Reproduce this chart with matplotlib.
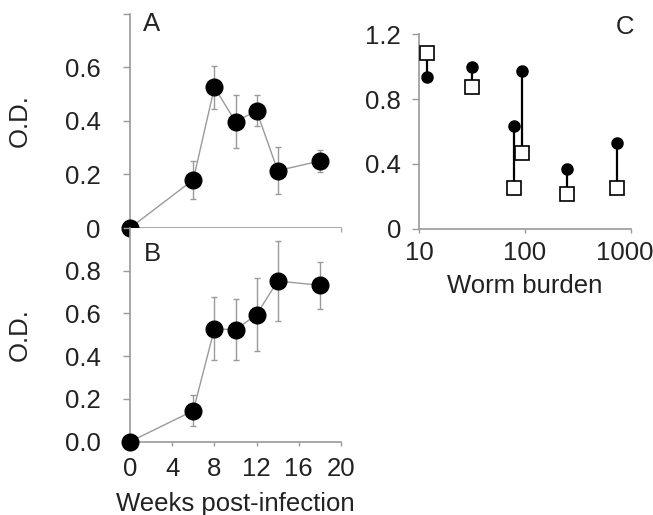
import matplotlib
matplotlib.use("Agg")
import matplotlib.pyplot as plt
import matplotlib.transforms as mtransforms
import numpy as np

plt.rcParams['font.family'] = ['Liberation Sans', 'DejaVu Sans']

# Panel A
weeks_a = [0, 6, 8, 10, 12, 14, 18]
od_a = [0.0, 0.18, 0.525, 0.397, 0.437, 0.214, 0.25]
err_a = [0.0, 0.07, 0.08, 0.10, 0.058, 0.087, 0.042]

# Panel B
weeks_b = [0, 6, 8, 10, 12, 14, 18]
od_b = [0.0, 0.145, 0.528, 0.524, 0.595, 0.752, 0.732]
err_b = [0.0, 0.072, 0.147, 0.142, 0.17, 0.185, 0.11]

# Panel C
worm = [12, 31.5, 78, 93, 250, 730]
od_circle = [0.938, 1.0, 0.636, 0.975, 0.369, 0.527]
od_square = [1.083, 0.877, 0.253, 0.469, 0.214, 0.253]

W, H = 653, 515
fig = plt.figure(figsize=(W/100, H/100), dpi=100)

def ax_px(l, t, r, b):
    return fig.add_axes([l/W, 1-b/H, (r-l)/W, (b-t)/H])

gray = '#9a9a9a'
txt = '#222222'
fs = 18.5

def style(ax, ypad):
    for s in ['top', 'right']:
        ax.spines[s].set_visible(False)
    for s in ['left', 'bottom']:
        ax.spines[s].set_color(gray)
        ax.spines[s].set_linewidth(1.2)
    ax.tick_params(axis='y', direction='out', length=5, width=1, color=gray,
                   labelsize=fs, labelcolor=txt, pad=ypad)
    ax.tick_params(axis='x', direction='out', length=3, width=1, color=gray,
                   labelsize=fs, labelcolor=txt, pad=8)

# A
axA = ax_px(130, 13.6, 341, 228)
axA.errorbar(weeks_a, od_a, yerr=err_a, color=gray, lw=1, ecolor=gray,
             elinewidth=1, capsize=2.5, marker='o', mfc='black', mec='black',
             ms=12, clip_on=False, zorder=3)
axA.set_xlim(0, 20)
axA.set_ylim(0, 0.8)
axA.set_xticks([0, 4, 8, 12, 16, 20])
axA.set_yticks([0, 0.2, 0.4, 0.6, 0.8])
axA.set_yticklabels(['0', '0.2', '0.4', '0.6', ''])
axA.tick_params(labelbottom=False)
style(axA, 16)
axA.set_ylabel('O.D.', fontsize=fs, color=txt, labelpad=24)
axA.text(0.063, 0.951, 'A', transform=axA.transAxes, fontsize=fs, color=txt,
         ha='left', va='center')

# B
axB = ax_px(130, 228, 341, 441.7)
axB.errorbar(weeks_b, od_b, yerr=err_b, color=gray, lw=1, ecolor=gray,
             elinewidth=1, capsize=2.5, marker='o', mfc='black', mec='black',
             ms=12, clip_on=False, zorder=3)
axB.set_xlim(0, 20)
axB.set_ylim(0, 1.0)
axB.set_xticks([0, 4, 8, 12, 16, 20])
axB.set_yticks([0, 0.2, 0.4, 0.6, 0.8, 1.0])
axB.set_yticklabels(['0.0', '0.2', '0.4', '0.6', '0.8', ''])
style(axB, 16)
axB.set_ylabel('O.D.', fontsize=fs, color=txt, labelpad=24)
axB.set_xlabel('Weeks post-infection', fontsize=fs, color=txt, labelpad=8)
axB.text(0.068, 0.876, 'B', transform=axB.transAxes, fontsize=fs, color=txt,
         ha='left', va='center')

# C
axC = ax_px(419, 34.3, 631, 228.7)
axC.vlines(worm, od_circle, od_square, colors='black', lw=1.6, zorder=2)
axC.plot(worm, od_circle, 'o', color='black', ms=8, zorder=3, clip_on=False)
axC.plot(worm, od_square, 's', mfc='white', mec='black', mew=1.2, ms=9.5,
         zorder=4, clip_on=False)
axC.set_xscale('log')
axC.set_xlim(10, 1000)
axC.set_ylim(0, 1.2)
axC.set_xticks([10, 100, 1000])
axC.set_xticklabels(['10', '100', '1000'])
axC.xaxis.set_minor_locator(matplotlib.ticker.NullLocator())
axC.set_yticks([0, 0.4, 0.8, 1.2])
axC.set_yticklabels(['0', '0.4', '0.8', '1.2'])
style(axC, 8)
axC.tick_params(axis='x', pad=6)
# keep the last label inside the figure
last = axC.get_xticklabels()[-1]
last.set_transform(last.get_transform() +
                   mtransforms.ScaledTranslation(-6/100, 0, fig.dpi_scale_trans))
axC.set_xlabel('Worm burden', fontsize=fs, color=txt, labelpad=6)
axC.text(0.974, 1.039, 'C', transform=axC.transAxes, fontsize=fs, color=txt,
         ha='center', va='center')

fig.savefig('out.png', dpi=100)
